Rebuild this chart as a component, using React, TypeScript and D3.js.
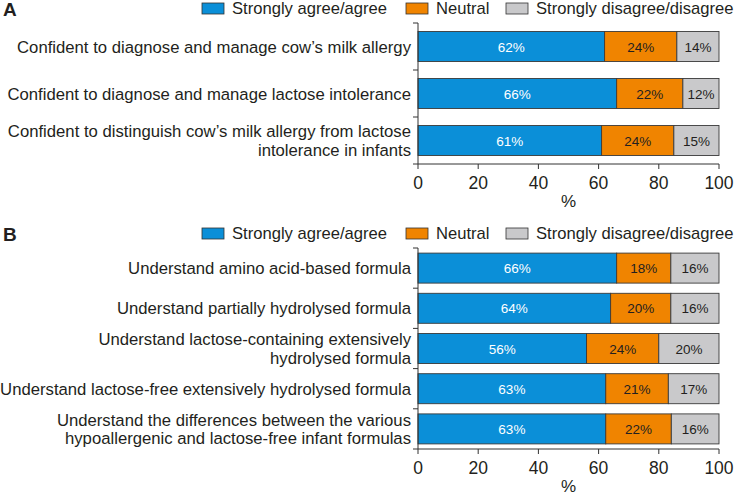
import * as d3 from 'd3';

// panel A
const catsA = [
  ['Confident to diagnose and manage cow\u2019s milk allergy'],
  ['Confident to diagnose and manage lactose intolerance'],
  ['Confident to distinguish cow\u2019s milk allergy from lactose', 'intolerance in infants'],
];
const agreeA = [62, 66, 61];
const neutralA = [24, 22, 24];
const disagreeA = [14, 12, 15];

// panel B
const catsB = [
  ['Understand amino acid-based formula'],
  ['Understand partially hydrolysed formula'],
  ['Understand lactose-containing extensively', 'hydrolysed formula'],
  ['Understand lactose-free extensively hydrolysed formula'],
  ['Understand the differences between the various', 'hypoallergenic and lactose-free infant formulas'],
];
const agreeB = [66, 64, 56, 63, 63];
const neutralB = [18, 20, 24, 21, 22];
const disagreeB = [16, 16, 20, 17, 16];

const seriesNames = ['Strongly agree/agree', 'Neutral', 'Strongly disagree/disagree'];
const seriesColors = ['#0b8fd8', '#f08400', '#c9c9cb'];
const labelColors = ['#ffffff', '#231f20', '#231f20'];
const xTicks = [0, 20, 40, 60, 80, 100];

const FONT = '"Liberation Sans", Arial, sans-serif';
const INK = '#231f20';

type PanelProps = {
  letter: string;
  cats: string[][];
  series: number[][];
  top: number; // legend line
  bandTop: number;
  bandBottom: number;
  barH: number;
};

const Panel = ({ letter, cats, series, top, bandTop, bandBottom, barH }: PanelProps) => {
  const x = d3.scaleLinear().domain([0, 100]).range([418, 719]);
  const idx = cats.map((_, i) => String(i));
  const y = d3.scaleBand().domain(idx).range([bandTop, bandBottom]);
  const bw = y.bandwidth();

  // stack rows, normalised so rounded labels still fill 0-100
  const rows = cats.map((_, i) => {
    const vals = series.map((s) => s[i]);
    const sum = d3.sum(vals);
    let acc = 0;
    return vals.map((v) => {
      const seg = { x0: (acc / sum) * 100, x1: ((acc + v) / sum) * 100, v };
      acc += v;
      return seg;
    });
  });

  const legendX = [202, 406, 506];
  const boundaries = d3.range(cats.length + 1).map((k) => bandTop + k * bw);

  return (
    <g>
      <text x={3} y={top + 8} fontSize={19} fontWeight="bold" fill={INK} fontFamily={FONT}>
        {letter}
      </text>
      {seriesNames.map((n, i) => (
        <g key={n}>
          <rect x={legendX[i]} y={top - 5} width={22} height={11} fill={seriesColors[i]} stroke="#333" strokeWidth={0.8} />
          <text x={legendX[i] + 30} y={top + 6} fontSize={16.6} fill={INK} fontFamily={FONT}>
            {n}
          </text>
        </g>
      ))}

      {cats.map((lines, i) => {
        const cy = (y(String(i)) as number) + bw / 2;
        const lh = 18.5;
        const start = cy - ((lines.length - 1) * lh) / 2;
        return (
          <text key={i} textAnchor="end" fontSize={16.7} fill={INK} fontFamily={FONT}>
            {lines.map((l, j) => (
              <tspan key={j} x={411} y={start + j * lh + 6}>
                {l}
              </tspan>
            ))}
          </text>
        );
      })}

      {rows.map((segs, i) => {
        const by = (y(String(i)) as number) + (bw - barH) / 2;
        return (
          <g key={i}>
            {segs.map((s, k) => (
              <g key={k}>
                <rect
                  x={x(s.x0)}
                  y={by}
                  width={x(s.x1) - x(s.x0)}
                  height={barH}
                  fill={seriesColors[k]}
                  stroke="#3a3a3a"
                  strokeWidth={0.9}
                />
                <text
                  x={(x(s.x0) + x(s.x1)) / 2}
                  y={by + barH / 2 + 5}
                  textAnchor="middle"
                  fontSize={13.5}
                  fill={labelColors[k]}
                  fontFamily={FONT}
                >
                  {s.v}%
                </text>
              </g>
            ))}
          </g>
        );
      })}

      {/* y axis */}
      <line x1={418} x2={418} y1={bandTop} y2={bandBottom} stroke="#333" strokeWidth={1} />
      {boundaries.slice(0, -1).map((b, k) => (
        <line key={k} x1={413} x2={418} y1={b} y2={b} stroke="#333" strokeWidth={1} />
      ))}
      {/* x axis */}
      <line x1={413} x2={719} y1={bandBottom} y2={bandBottom} stroke="#333" strokeWidth={1} />
      {xTicks.map((t) => (
        <g key={t}>
          <line x1={x(t)} x2={x(t)} y1={bandBottom} y2={bandBottom + 5} stroke="#333" strokeWidth={1} />
          <text x={x(t)} y={bandBottom + 25} textAnchor="middle" fontSize={17.5} fill={INK} fontFamily={FONT}>
            {t}
          </text>
        </g>
      ))}
      <text x={x(50)} y={bandBottom + 43} textAnchor="middle" fontSize={17} fill={INK} fontFamily={FONT}>
        %
      </text>
    </g>
  );
};

export default function App() {
  return (
    <svg
      width={734}
      height={495}
      style={{ position: 'absolute', left: 0, top: 0, background: '#fff' }}
    >
      <Panel
        letter="A"
        cats={catsA}
        series={[agreeA, neutralA, disagreeA]}
        top={8}
        bandTop={23}
        bandBottom={164}
        barH={30}
      />
      <Panel
        letter="B"
        cats={catsB}
        series={[agreeB, neutralB, disagreeB]}
        top={233}
        bandTop={248}
        bandBottom={449}
        barH={30}
      />
    </svg>
  );
}
